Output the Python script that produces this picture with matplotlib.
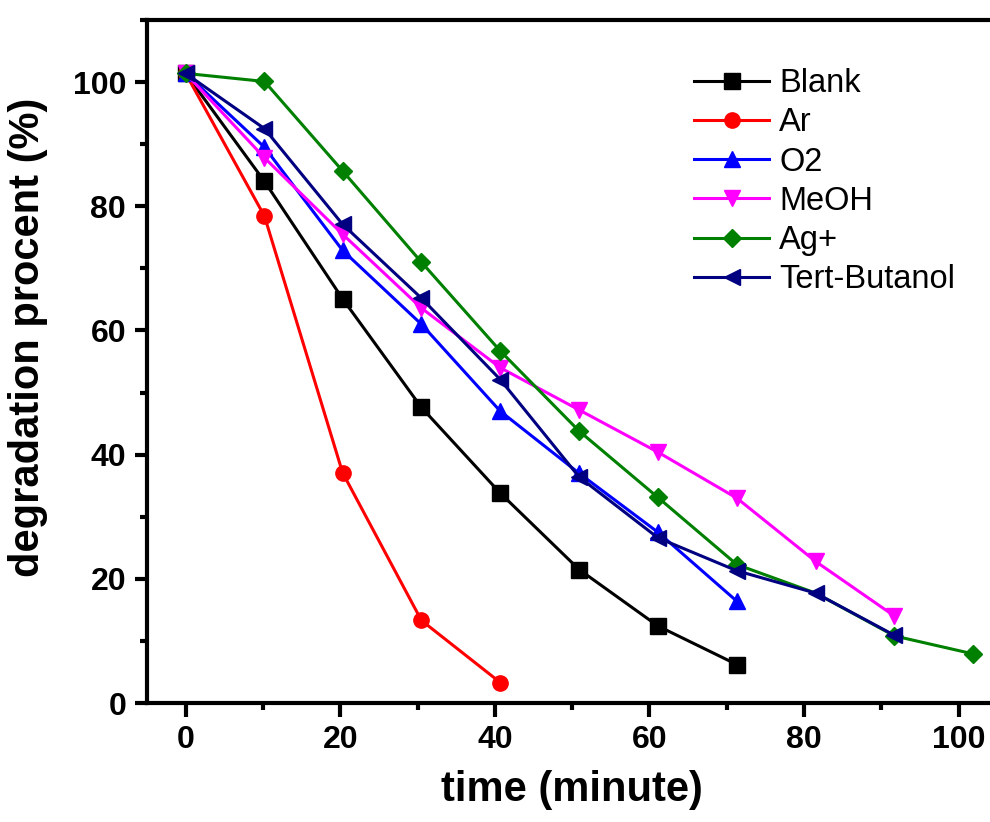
import matplotlib
matplotlib.use("Agg")
import matplotlib.pyplot as plt
from matplotlib.ticker import MultipleLocator

plt.rcParams["font.family"] = ["Liberation Sans", "DejaVu Sans"]

# sampling times (minutes) as placed in the original plot
times = [0, 10.2, 20.3, 30.5, 40.7, 50.9, 61.1, 71.3, 81.5, 91.7, 101.9]

blank = [101.4, 84.0, 65.1, 47.6, 33.8, 21.5, 12.4, 6.2]
ar = [101.4, 78.4, 37.1, 13.3, 3.3]
o2 = [101.4, 89.5, 72.9, 61.0, 47.0, 37.0, 27.5, 16.4]
meoh = [101.4, 87.8, 75.5, 63.6, 54.0, 47.2, 40.4, 33.0, 22.8, 14.0]
ag = [101.4, 100.1, 85.7, 71.0, 56.7, 43.8, 33.1, 22.3, 17.7, 10.8, 7.9]
tert_butanol = [101.4, 92.5, 77.1, 65.2, 52.1, 36.4, 26.6, 21.3, 17.7, 10.9]

series = [
    ("Blank", blank, "black", "s"),
    ("Ar", ar, "#ff0000", "o"),
    ("O2", o2, "#0000ff", "^"),
    ("MeOH", meoh, "#ff00ff", "v"),
    ("Ag+", ag, "#008000", "D"),
    ("Tert-Butanol", tert_butanol, "#000080", "<"),
]

W, H = 990, 822
fig = plt.figure(figsize=(W / 100, H / 100), dpi=100)
# axes box in pixels: left 147, top 20, bottom 703, x scale 7.73 px/min
left, top, bottom = 147, 20, 703
width = 110 * 7.73
ax = fig.add_axes([left / W, (H - bottom) / H, width / W, (bottom - top) / H])

for name, vals, color, marker in series:
    ms = 9 if marker == "D" else 11
    every = None
    if name == "Ag+":
        # the 80 min Ag+ point sits under the Tert-Butanol one, no diamond shows
        every = [i for i in range(len(vals)) if i != 8]
    ax.plot(times[: len(vals)], vals, color=color, marker=marker, markersize=ms,
            linewidth=2.2, label=name, markevery=every)

ax.set_xlim(-5, 105)
ax.set_ylim(0, 110)
ax.xaxis.set_major_locator(MultipleLocator(20))
ax.xaxis.set_minor_locator(MultipleLocator(10))
ax.yaxis.set_major_locator(MultipleLocator(20))
ax.yaxis.set_minor_locator(MultipleLocator(10))

for sp in ax.spines.values():
    sp.set_linewidth(3)
ax.tick_params(axis="both", which="major", direction="out", length=10, width=3,
               labelsize=23, pad=6)
ax.tick_params(axis="y", which="major", length=9)
ax.tick_params(axis="both", which="minor", direction="out", length=5, width=3)
for lab in ax.get_xticklabels() + ax.get_yticklabels():
    lab.set_fontweight("bold")

ax.set_xlabel("time (minute)", fontsize=30, fontweight="bold")
ax.set_ylabel("degradation procent (%)", fontsize=30, fontweight="bold")
ax.xaxis.set_label_coords(0.5, -0.098)
ax.yaxis.set_label_coords(-0.116, 0.536)

leg = ax.legend(loc="upper left", bbox_to_anchor=(678 / W, 1 - 52 / H),
                bbox_transform=fig.transFigure, frameon=False, fontsize=23.5,
                handlelength=2.3, handletextpad=0.3, labelspacing=0.25,
                borderpad=0)

fig.savefig("out.png", dpi=100)
